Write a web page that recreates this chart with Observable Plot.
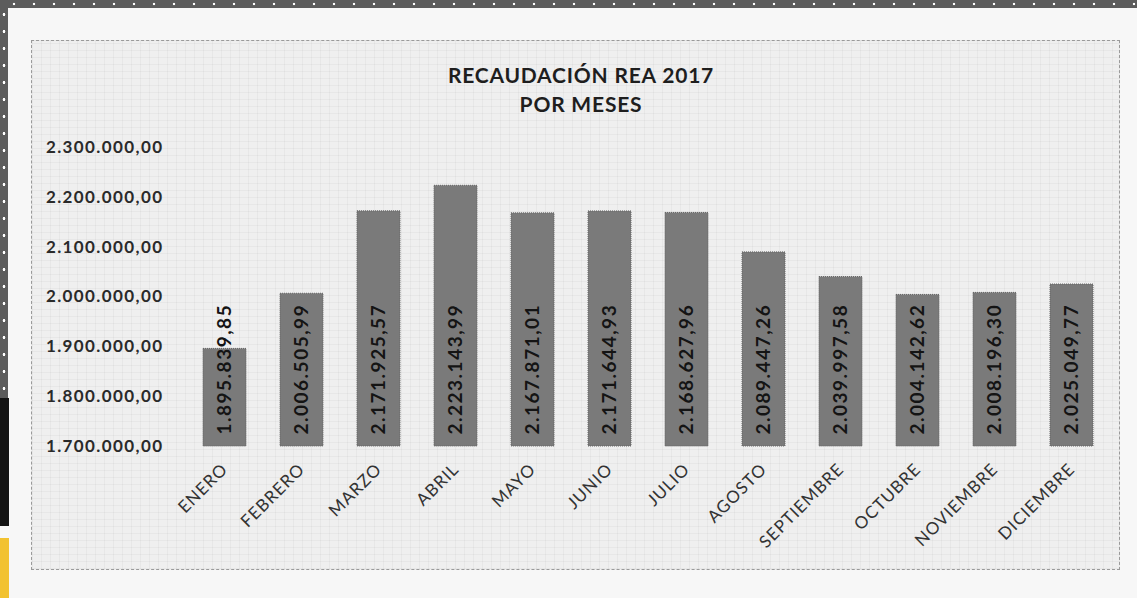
<!DOCTYPE html>
<html>
<head>
<meta charset="utf-8">
<script src="https://cdn.jsdelivr.net/npm/d3@7"></script>
<script src="https://cdn.jsdelivr.net/npm/@observablehq/plot@0.6"></script>
<style>
  html, body { margin: 0; padding: 0; }
  body {
    width: 1137px; height: 598px; overflow: hidden; position: relative;
    background: #f7f7f7; font-family: Lato, "Open Sans", sans-serif;
  }
  #topband {
    position: absolute; left: 0; top: 0; width: 1137px; height: 8px;
    background-color: #5c5c5c;
    background-image: radial-gradient(circle, #ffffff 1.2px, transparent 1.6px);
    background-size: 20px 8px; background-position: 4px 0;
  }
  #leftband {
    position: absolute; left: 0; top: 0; width: 8px; height: 400px;
    background-color: #5c5c5c;
    background-image: radial-gradient(circle, #ffffff 1.2px, transparent 1.6px);
    background-size: 8px 17px; background-position: 0 6px;
  }
  #leftblack { position: absolute; left: 0; top: 398px; width: 9px; height: 128px; background: #141414; }
  #leftyellow { position: absolute; left: 0; top: 538px; width: 9px; height: 60px; background: #f2c230; }
  #frame {
    position: absolute; left: 31px; top: 40px; width: 1089px; height: 530px;
    border: 1px dashed #9a9a9a; box-sizing: border-box;
    background-color: #efefef;
    background-image:
      repeating-linear-gradient(0deg, rgba(0,0,0,0.035) 0 1px, transparent 1px 7px),
      repeating-linear-gradient(90deg, rgba(0,0,0,0.035) 0 1px, transparent 1px 9px);
  }
  #title {
    position: absolute; left: 31px; top: 60px; width: 1100px; text-align: center;
    font-family: Lato, sans-serif; font-weight: bold; font-size: 21px; letter-spacing: 0.8px;
    line-height: 29px; color: #1e1e1e;
  }
  #chart { position: absolute; left: 0; top: 0; }
  #chart g[aria-label="y-axis tick label"] text { letter-spacing: 1.4px; }
  #chart g[aria-label="x-axis tick label"] text { letter-spacing: 1px; }
  #chart g[aria-label="text"] text { letter-spacing: 1.5px; }
</style>
</head>
<body>
<div id="topband"></div>
<div id="leftband"></div>
<div id="leftblack"></div>
<div id="leftyellow"></div>
<div id="frame"></div>
<div id="title">RECAUDACIÓN REA 2017<br>POR MESES</div>
<div id="chart"></div>
<script>
const meses = ["ENERO","FEBRERO","MARZO","ABRIL","MAYO","JUNIO","JULIO","AGOSTO","SEPTIEMBRE","OCTUBRE","NOVIEMBRE","DICIEMBRE"];
const recaudacion = [1895839.85, 2006505.99, 2171925.57, 2223143.99, 2167871.01, 2171644.93, 2168627.96, 2089447.26, 2039997.58, 2004142.62, 2008196.30, 2025049.77];
const yTicks = [1700000, 1800000, 1900000, 2000000, 2100000, 2200000, 2300000];

const locale = d3.formatLocale({decimal: ",", thousands: ".", grouping: [3], currency: ["", ""]});
const fmt = locale.format(",.2f");

const data = meses.map((mes, i) => ({mes, valor: recaudacion[i]}));
const base = yTicks[0];

const chart = Plot.plot({
  width: 1137,
  height: 598,
  marginTop: 147,
  marginBottom: 152,
  marginLeft: 186,
  marginRight: 27,
  style: {background: "transparent", fontFamily: "Lato, sans-serif"},
  x: {domain: meses, paddingInner: 0.44, paddingOuter: 0.22, label: null},
  y: {domain: [yTicks[0], yTicks[yTicks.length - 1]], label: null},
  marks: [
    Plot.barY(data, {x: "mes", y1: () => base, y2: "valor", fill: "#7a7a7a"}),
    Plot.barY(data, {x: "mes", y1: () => base, y2: "valor", fill: "none", stroke: "#656565", strokeWidth: 1, strokeDasharray: "1,1"}),
    Plot.text(data, {
      x: "mes", y: () => base, text: d => fmt(d.valor),
      rotate: -90, textAnchor: "start", lineAnchor: "middle", dy: -12,
      fontSize: 19, fontWeight: "bold", fill: "#141414"
    }),
    Plot.axisY(yTicks, {tickFormat: fmt, tickSize: 0, tickPadding: 23, fontSize: 17, fontWeight: "bold", fill: "#2a2a2a", label: null}),
    Plot.axisX({tickSize: 0, tickRotate: -45, tickPadding: 20, fontSize: 17, fill: "#333", label: null})
  ]
});
document.getElementById("chart").appendChild(chart);
</script>
</body>
</html>
